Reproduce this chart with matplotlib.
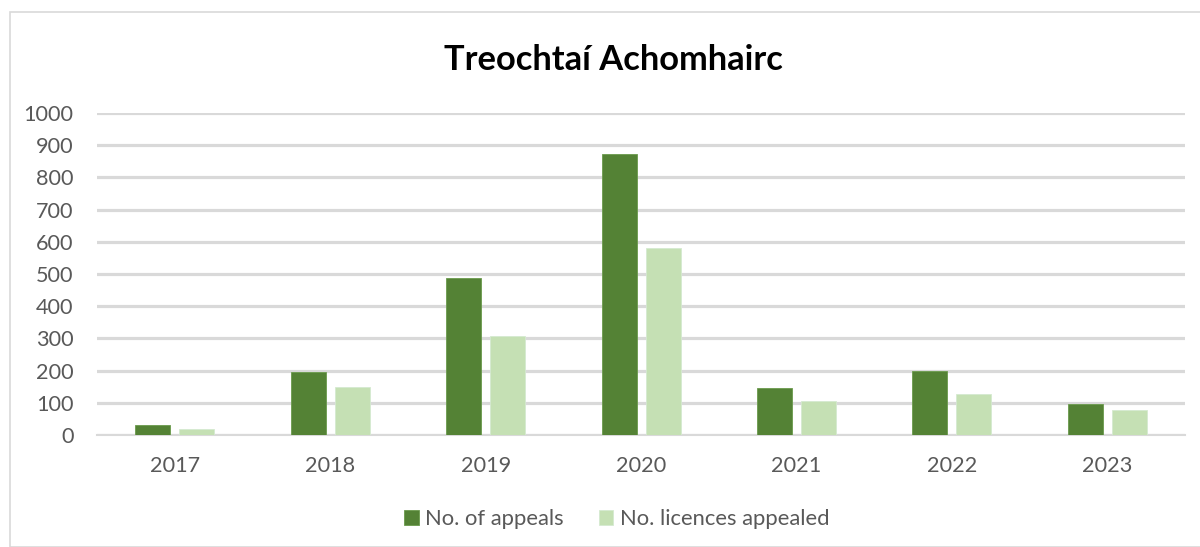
import matplotlib.pyplot as plt
import numpy as np
from matplotlib.patches import Rectangle

years = ['2017', '2018', '2019', '2020', '2021', '2022', '2023']
appeals = [31, 195, 487, 873, 147, 199, 97]
licences = [19, 148, 308, 580, 105, 126, 77]

dark = '#548235'
light = '#c5e0b4'
grey_text = '#595959'

plt.rcParams['font.family'] = ['Lato', 'DejaVu Sans']

fig = plt.figure(figsize=(12, 5.47), dpi=100)
ax = fig.add_axes([0.081, 0.2048, 0.9065, 0.5887])

x = np.arange(len(years))
w = 0.225
ax.bar(x - 0.142, appeals, w, color=dark, edgecolor='#6a9a4c', linewidth=0.6,
       label='No. of appeals', zorder=3)
ax.bar(x + 0.142, licences, w, color=light, edgecolor='#d5ead0', linewidth=0.6,
       label='No. licences appealed', zorder=3)

ax.set_xlim(-0.5, len(years) - 0.5)
ax.set_ylim(0, 1000)
ax.set_yticks(range(0, 1001, 100))
ax.set_xticks(x)
ax.set_xticklabels(years)
ax.yaxis.grid(True, color='#d9d9d9', linewidth=2.3, zorder=0)
ax.tick_params(axis='both', length=0, labelsize=15.6, labelcolor=grey_text)
ax.tick_params(axis='y', pad=17)
ax.tick_params(axis='x', pad=15)
for s in ['top', 'right', 'left']:
    ax.spines[s].set_visible(False)
ax.spines['bottom'].set_color('#d9d9d9')
ax.spines['bottom'].set_linewidth(1.5)
ax.spines['bottom'].set_zorder(1)

fig.text(0.511, 0.89, 'Treochtaí Achomhairc', ha='center', va='center',
         fontsize=24.8, fontweight='bold', color='black')

leg = fig.legend(loc='center', bbox_to_anchor=(0.514, 0.051), ncol=2, frameon=False,
                 fontsize=15.8, handlelength=0.65, handleheight=0.65, handletextpad=0.3,
                 columnspacing=1.6)
for t in leg.get_texts():
    t.set_color(grey_text)

fig.patches.append(Rectangle((10 / 1200, 0), 1.0, 1 - 12 / 547, transform=fig.transFigure,
                             fill=False, edgecolor='#d9d9d9', linewidth=1.2))

fig.savefig('out.png', dpi=100)
